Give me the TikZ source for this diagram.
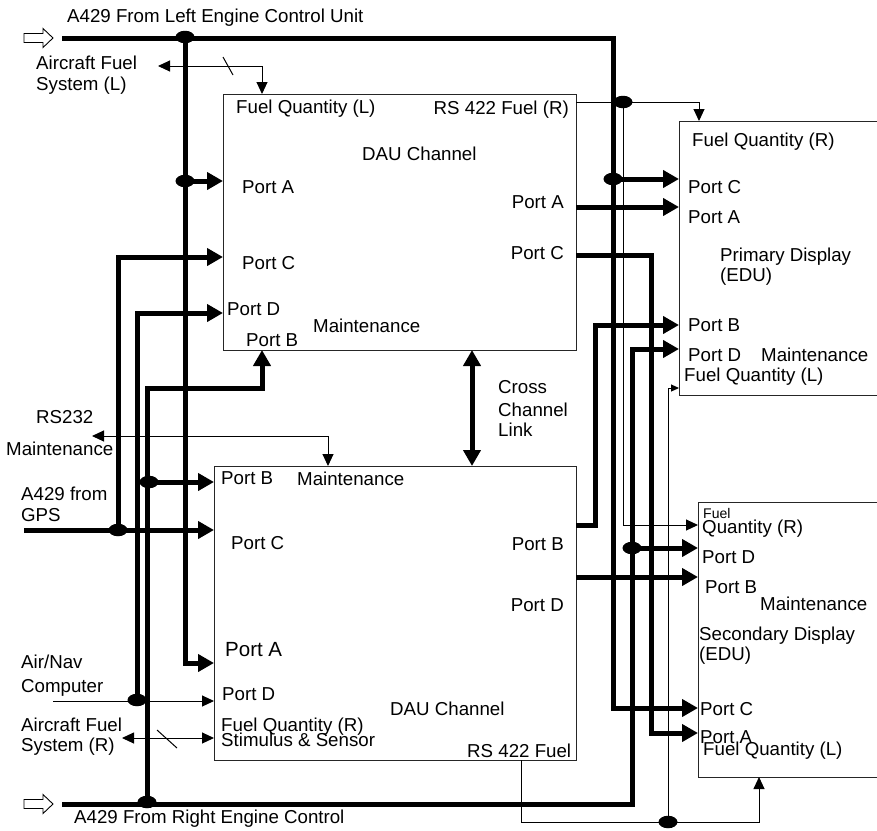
\documentclass[tikz,border=0pt]{standalone}
\usepackage{fontspec}
\setmainfont{Liberation Sans}
\usetikzlibrary{arrows.meta,shapes.geometric}
\tikzset{
  Big/.tip={Triangle[length=16pt,width=17pt]},
  Sml/.tip={Triangle[length=12pt,width=11pt]},
  Tiny/.tip={Triangle[length=8pt,width=7pt]},
  thk/.style={line width=5pt},
  thn/.style={line width=1pt},
  boxst/.style={draw=black!85, line width=1pt, anchor=north west, inner sep=0pt},
  dotst/.style={ellipse, fill=black, inner sep=0pt, minimum width=19pt, minimum height=12.5pt},
  txt/.style={font=\fontsize{18.7}{20}\selectfont, inner sep=0pt, anchor=base west},
  txte/.style={txt, anchor=base east},
}
\begin{document}
\begin{tikzpicture}[x=1pt,y=-1pt]
\useasboundingbox (0,0) rectangle (877,830);
\fill[white] (0,0) rectangle (877,830);

% boxes
\node[boxst, minimum width=353pt, minimum height=256pt] (dauU) at (223,94) {};
\node[boxst, minimum width=362pt, minimum height=294pt] (dauL) at (214,466) {};
\node[boxst, minimum width=260pt, minimum height=274pt] (prim) at (679,121) {};
\node[boxst, minimum width=240pt, minimum height=275pt] (sec) at (698,502) {};

% input arrows
\draw[line width=0.9pt] (24,33.5) -- (43,33.5) -- (43,28.5) -- (53,38) -- (43,47.5) -- (43,42.5) -- (24,42.5) -- cycle;
\draw[line width=0.9pt] (24,799.5) -- (43,799.5) -- (43,794.5) -- (53,804) -- (43,813.5) -- (43,808.5) -- (24,808.5) -- cycle;

% coordinates
\coordinate (topL) at (62,38);
\coordinate (topR) at (613,38);
\coordinate (botL) at (62,804);
\coordinate (botR) at (632,804);
\coordinate (gpsL) at (24,530);
\coordinate (anL) at (53,701);
\coordinate (uPA) at (223,181);
\coordinate (uPC) at (223,257);
\coordinate (uPD) at (223,313);
\coordinate (uPB) at (262,350);
\coordinate (uFL) at (262,94);
\coordinate (uRF) at (576,102);
\coordinate (uRA) at (576,207);
\coordinate (uRC) at (576,255);
\coordinate (uX) at (472,350);
\coordinate (lX) at (472,466);
\coordinate (lPB) at (214,482);
\coordinate (lPC) at (214,530);
\coordinate (lPA) at (214,663);
\coordinate (lPD) at (214,701);
\coordinate (lFR) at (214,738);
\coordinate (lMt) at (328,466);
\coordinate (lRB) at (576,525);
\coordinate (lRD) at (576,577);
\coordinate (lRF) at (521,760);
\coordinate (pFR) at (699,121);
\coordinate (pPC) at (679,179);
\coordinate (pPA) at (679,207);
\coordinate (pPB) at (679,325);
\coordinate (pPD) at (679,349);
\coordinate (pFL) at (679,388);
\coordinate (sFR) at (698,525);
\coordinate (sPD) at (698,548);
\coordinate (sPB) at (698,577);
\coordinate (sPC) at (698,708);
\coordinate (sPA) at (698,733);
\coordinate (sFL) at (759,777);
\coordinate (k5) at (262,388);
\coordinate (k12) at (651,733);
\coordinate (k13) at (595,325);
\coordinate (k17) at (759,822);
\coordinate (afL) at (158,66);
\coordinate (afR) at (122,738);
\coordinate (rs232) at (92,436);

% dots
\node[dotst] (d1) at (185,37) {};
\node[dotst] (d2) at (185,181) {};
\node[dotst] (d3) at (613,179) {};
\node[dotst] (d4) at (632,548) {};
\node[dotst] (d5) at (147,802) {};
\node[dotst] (d6) at (149,482) {};
\node[dotst] (d7) at (118,530) {};
\node[dotst] (d8) at (137,700) {};
\node[dotst] (d9) at (623,102) {};
\node[dotst] (d10) at (668,822) {};

% thick connectors
\draw[thk,-Big] (topL) -- (topR) |- (sPC);
\draw[thk,-Big] (d1.center) |- (lPA);
\draw[thk,-Big] (d2.center) -- (uPA);
\draw[thk,-Big] (d3.center) -- (pPC);
\draw[thk,-Big] (botL) -- (botR) |- (pPD);
\draw[thk,-Big] (d4.center) -- (sPD);
\draw[thk,-Big] (d5.center) |- (k5) -- (uPB);
\draw[thk,-Big] (d6.center) -- (lPB);
\draw[thk,-Big] (gpsL) -- (lPC);
\draw[thk,-Big] (d7.center) |- (uPC);
\draw[thk,-Big] (d8.center) |- (uPD);
\draw[thk,-Big] (uRA) -- (pPA);
\draw[thk,-Big] (uRC) -| (k12) -- (sPA);
\draw[thk,-Big] (lRB) -| (k13) -- (pPB);
\draw[thk,-Big] (lRD) -- (sPB);
\draw[thk,Big-Big] (uX) -- (lX);

% thin connectors
\draw[thn,-Sml] (anL) -- (lPD);
\draw[thn,-Sml] (uRF) -| (pFR);
\draw[thn,-Sml] (d9.center) |- (sFR);
\draw[thn,-Sml] (lRF) |- (k17) -- (sFL);
\draw[thn,-Tiny] (d10.center) |- (pFL);
\draw[thn,Sml-Sml] (afL) -| (uFL);
\draw[thn,Sml-Sml] (afR) -- (lFR);
\draw[thn,Sml-Sml] (rs232) -| (lMt);
\draw[thn] (223,57) -- (233,75);
\draw[thn] (157,730) -- (177,748);

% texts
\node[txt] (t1) at (67,22) {A429 From Left Engine Control Unit};
\node[txt] (t2) at (36,69) {Aircraft Fuel};
\node[txt] (t3) at (36,90) {System (L)};
\node[txt] (t4) at (236,113) {Fuel Quantity (L)};
\node[txte] (t5) at (569,114) {RS 422 Fuel (R)};
\node[txt] (t6) at (362,160) {DAU Channel};
\node[txt] (t7) at (242,193) {Port A};
\node[txte] (t8) at (564,208) {Port A};
\node[txt] (t9) at (242,269) {Port C};
\node[txte] (t10) at (564,259) {Port C};
\node[txt] (t11) at (227,315) {Port D};
\node[txt] (t12) at (246,346) {Port B};
\node[txt] (t13) at (313,332) {Maintenance};
\node[txt] (t14) at (221,484) {Port B};
\node[txt] (t15) at (297,485) {Maintenance};
\node[txt] (t16) at (231,549) {Port C};
\node[txte] (t17) at (564,550) {Port B};
\node[txte] (t18) at (564,611) {Port D};
\node[txt, font=\fontsize{20.5}{22}\selectfont] (t19) at (225,656) {Port A};
\node[txt] (t20) at (222,700) {Port D};
\node[txt] (t21) at (221,731) {Fuel Quantity (R)};
\node[txt] (t22) at (221,746) {Stimulus \& Sensor};
\node[txt] (t23) at (390,715) {DAU Channel};
\node[txt] (t24) at (467,757) {RS 422 Fuel};
\node[txt] (t25) at (692,146.5) {Fuel Quantity (R)};
\node[txt] (t26) at (688,193) {Port C};
\node[txt] (t27) at (688,223) {Port A};
\node[txt] (t28) at (720,261.5) {Primary Display};
\node[txt] (t29) at (720,281) {(EDU)};
\node[txt] (t30) at (688,331.7) {Port B};
\node[txt] (t31) at (688,361.7) {Port D};
\node[txt] (t32) at (761,361.7) {Maintenance};
\node[txt] (t33) at (684,381.5) {Fuel Quantity (L)};
\node[txt, font=\fontsize{14}{15}\selectfont] (t34) at (703,518) {Fuel};
\node[txt] (t35) at (702,533.5) {Quantity (R)};
\node[txt] (t36) at (702,563) {Port D};
\node[txt] (t37) at (705,593) {Port B};
\node[txt] (t38) at (760,610) {Maintenance};
\node[txt] (t39) at (699,640) {Secondary Display};
\node[txt] (t40) at (699,660) {(EDU)};
\node[txt] (t41) at (700,715) {Port C};
\node[txt] (t42) at (700,743) {Port A};
\node[txt] (t43) at (703,755) {Fuel Quantity (L)};
\node[txt] (t44) at (36,423) {RS232};
\node[txt] (t45) at (6,455) {Maintenance};
\node[txt] (t46) at (21,500) {A429 from};
\node[txt] (t47) at (21,521.7) {GPS};
\node[txt] (t48) at (21,668) {Air/Nav};
\node[txt] (t49) at (21,692) {Computer};
\node[txt] (t50) at (21,731.7) {Aircraft Fuel};
\node[txt] (t51) at (21,751.7) {System (R)};
\node[txt] (t52) at (74,823.4) {A429 From Right Engine Control};
\node[txt] (t53) at (498,393.4) {Cross};
\node[txt] (t54) at (498,416) {Channel};
\node[txt] (t55) at (498,436) {Link};
\end{tikzpicture}
\end{document}
